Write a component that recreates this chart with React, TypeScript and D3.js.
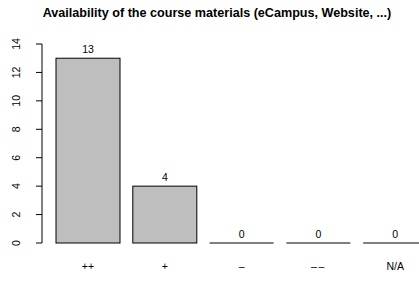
import React from "react";
import * as d3 from "d3";

const categories = ["++", "+", "–", "––", "N/A"];
const counts = [13, 4, 0, 0, 0];
const yTicks = [0, 2, 4, 6, 8, 10, 12, 14];
const title = "Availability of the course materials (eCampus, Website, ...)";

const W = 419;
const H = 281;
const font = "Liberation Sans, Arial, Helvetica, sans-serif";

export default function App() {
  // R barplot layout: width 1, space 0.2
  const x = d3.scaleLinear().domain([0, 1]).range([43.2, 107.2]);
  const y = d3.scaleLinear().domain([0, 14]).range([243, 44]);
  const axisX = 42;

  return (
    <svg width={W} height={H} style={{ position: "absolute", left: 0, top: 0 }}>
      <rect width={W} height={H} fill="white" />
      <text x={217} y={16.5} textAnchor="middle" fontFamily={font} fontWeight="bold" fontSize={12.6}>
        {title}
      </text>

      {/* y axis */}
      <line x1={axisX} x2={axisX} y1={y(0)} y2={y(14)} stroke="black" />
      {yTicks.map(t => (
        <g key={t}>
          <line x1={axisX - 6} x2={axisX} y1={y(t)} y2={y(t)} stroke="black" />
          <text
            transform={`translate(${20},${y(t)}) rotate(-90)`}
            textAnchor="middle"
            fontFamily={font}
            fontSize={10.5}
          >
            {t}
          </text>
        </g>
      ))}

      {/* bars */}
      {counts.map((v, i) => {
        const left = x(0.2 + i * 1.2);
        const right = x(1.2 + i * 1.2);
        const mid = (left + right) / 2;
        return (
          <g key={i}>
            {v > 0 ? (
              <rect x={left} y={y(v)} width={right - left} height={y(0) - y(v)} fill="#bebebe" stroke="black" />
            ) : (
              <line x1={left} x2={right} y1={y(0)} y2={y(0)} stroke="black" />
            )}
            <text x={mid} y={y(v) - 5} textAnchor="middle" fontFamily={font} fontSize={10.5}>
              {v}
            </text>
            <text
              x={mid}
              y={270}
              textAnchor="middle"
              fontFamily={font}
              fontSize={10.5}
              letterSpacing={categories[i] === "––" ? 1.5 : 0}
            >
              {categories[i]}
            </text>
          </g>
        );
      })}
    </svg>
  );
}
